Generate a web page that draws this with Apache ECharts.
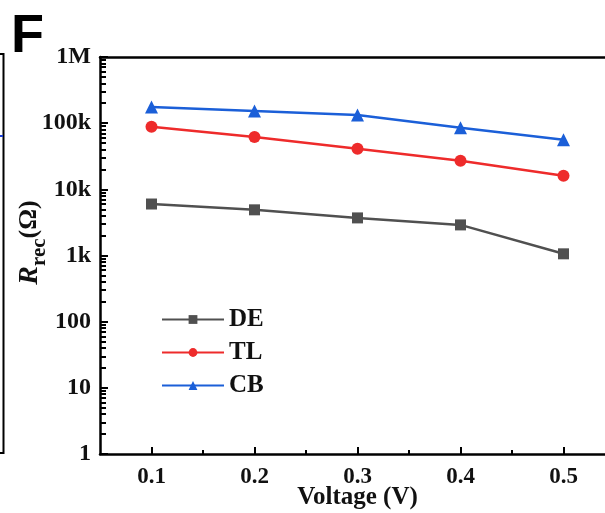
<!DOCTYPE html>
<html>
<head>
<meta charset="utf-8">
<script src="https://cdn.jsdelivr.net/npm/echarts@6/dist/echarts.min.js"></script>
<style>
html,body{margin:0;padding:0;background:#fff;}
#chart{width:605px;height:513px;}
</style>
</head>
<body>
<div id="chart"></div>
<script>
// ---- data ----
const voltages = [0.1, 0.2, 0.3, 0.4, 0.5];
const seriesNames = ['DE', 'TL', 'CB'];
const deValues = [6000, 4900, 3700, 2900, 1060];
const tlValues = [88000, 62000, 41000, 27000, 16000];
const cbValues = [176000, 153000, 133000, 85000, 56000];
const yTickLabels = ['1', '10', '100', '1k', '10k', '100k', '1M'];
const xTickValues = [0.1, 0.2, 0.3, 0.4, 0.5];
const xMinorTickValues = [0.15, 0.25, 0.35, 0.45];

const FONT = '"Liberation Serif", "Times New Roman", serif';
const colors = ['#505050', '#ee2b2b', '#1b5fd8'];
const symbols = ['rect', 'circle', 'triangle'];
const symbolSizes = [11, 12, 13];
const allValues = [deValues, tlValues, cbValues];

// minor tick positions on log scale, expressed in log10 space
const yMinorLog = [];
for (let d = 0; d < 6; d++) {
  for (let k = 2; k <= 9; k++) yMinorLog.push(d + Math.log10(k));
}

const chart = echarts.init(document.getElementById('chart'), null, {renderer: 'canvas'});

const series = seriesNames.map((name, i) => ({
  name: name,
  type: 'line',
  xAxisIndex: 0,
  yAxisIndex: 0,
  data: voltages.map((v, j) => [v, allValues[i][j]]),
  symbol: symbols[i],
  symbolSize: symbolSizes[i],
  itemStyle: {color: colors[i]},
  lineStyle: {color: colors[i], width: 2.5},
  z: 3 + i
}));

const option = {
  backgroundColor: '#fff',
  animation: false,
  grid: {left: 100, top: 57, right: -10, bottom: 59, containLabel: false, outerBoundsMode: 'none'},
  legend: {
    orient: 'vertical',
    left: 156,
    top: 302,
    itemWidth: 62,
    itemHeight: 11,
    itemGap: 8,
    data: seriesNames,
    textStyle: {fontFamily: FONT, fontWeight: 'bold', fontSize: 25, color: '#111'}
  },
  xAxis: [
    {
      type: 'value', position: 'bottom', min: 0.05, max: 0.55, interval: 0.05,
      axisLine: {show: true, onZero: false, lineStyle: {color: '#000', width: 2.5}},
      axisTick: {show: true, inside: true, length: 7, customValues: xTickValues, lineStyle: {color: '#000', width: 2}},
      axisLabel: {show: true, customValues: xTickValues, margin: 12, formatter: v => v.toFixed(1),
        fontFamily: FONT, fontWeight: 'bold', fontSize: 23, color: '#111'},
      splitLine: {show: false},
      name: 'Voltage (V)', nameLocation: 'middle', nameGap: 31, nameMoveOverlap: false,
      nameTextStyle: {fontFamily: FONT, fontWeight: 'bold', fontSize: 25, color: '#111'}
    },
    {
      type: 'value', position: 'bottom', min: 0.05, max: 0.55, interval: 0.05,
      axisLine: {show: false},
      axisTick: {show: true, inside: true, length: 4, customValues: xMinorTickValues, lineStyle: {color: '#000', width: 2}},
      axisLabel: {show: false},
      splitLine: {show: false}
    },
    {
      type: 'value', position: 'top', min: 0.05, max: 0.55, interval: 0.05,
      axisLine: {show: true, onZero: false, lineStyle: {color: '#000', width: 2.5}},
      axisTick: {show: false},
      axisLabel: {show: false},
      splitLine: {show: false}
    }
  ],
  yAxis: [
    {
      type: 'log', logBase: 10, min: 1, max: 1000000, position: 'left',
      axisLine: {show: true, onZero: false, lineStyle: {color: '#000', width: 2.5}},
      axisTick: {show: true, inside: true, length: 8, lineStyle: {color: '#000', width: 2}},
      axisLabel: {
        margin: 9,
        fontFamily: FONT, fontWeight: 'bold', fontSize: 24, color: '#111',
        formatter: v => yTickLabels[Math.round(Math.log10(v))]
      },
      splitLine: {show: false},
      minorTick: {show: false},
      name: '{i|R}{s|rec}{n|(Ω)}',
      nameLocation: 'middle',
      nameGap: 50,
      nameMoveOverlap: false,
      nameRotate: 90,
      nameTextStyle: {
        padding: [0, 0, 0, 26],
        rich: {
          i: {fontFamily: FONT, fontStyle: 'italic', fontWeight: 'bold', fontSize: 28, color: '#111', lineHeight: 34, verticalAlign: 'top'},
          s: {fontFamily: FONT, fontWeight: 'bold', fontSize: 21, color: '#111', lineHeight: 34, verticalAlign: 'bottom'},
          n: {fontFamily: FONT, fontWeight: 'bold', fontSize: 26, color: '#111', lineHeight: 34, verticalAlign: 'top'}
        }
      }
    },
    {
      type: 'value', min: 0, max: 6, position: 'left',
      axisLine: {show: false},
      axisTick: {show: true, inside: true, length: 6, customValues: yMinorLog, lineStyle: {color: '#000', width: 2}},
      axisLabel: {show: false},
      splitLine: {show: false}
    }
  ],
  series: series,
  graphic: [
    {type: 'text', left: 11, top: 10, style: {text: 'F', font: 'bold 54px "Liberation Sans", Arial, sans-serif', fill: '#000'}},
    {type: 'polyline', shape: {points: [[0, 54], [3.5, 54], [3.5, 453], [0, 453]]}, style: {stroke: '#000', lineWidth: 2, fill: null}},
    {type: 'line', shape: {x1: 0, y1: 136, x2: 3, y2: 136}, style: {stroke: '#1b3fd8', lineWidth: 2}}
  ]
};
chart.setOption(option);
</script>
</body>
</html>
